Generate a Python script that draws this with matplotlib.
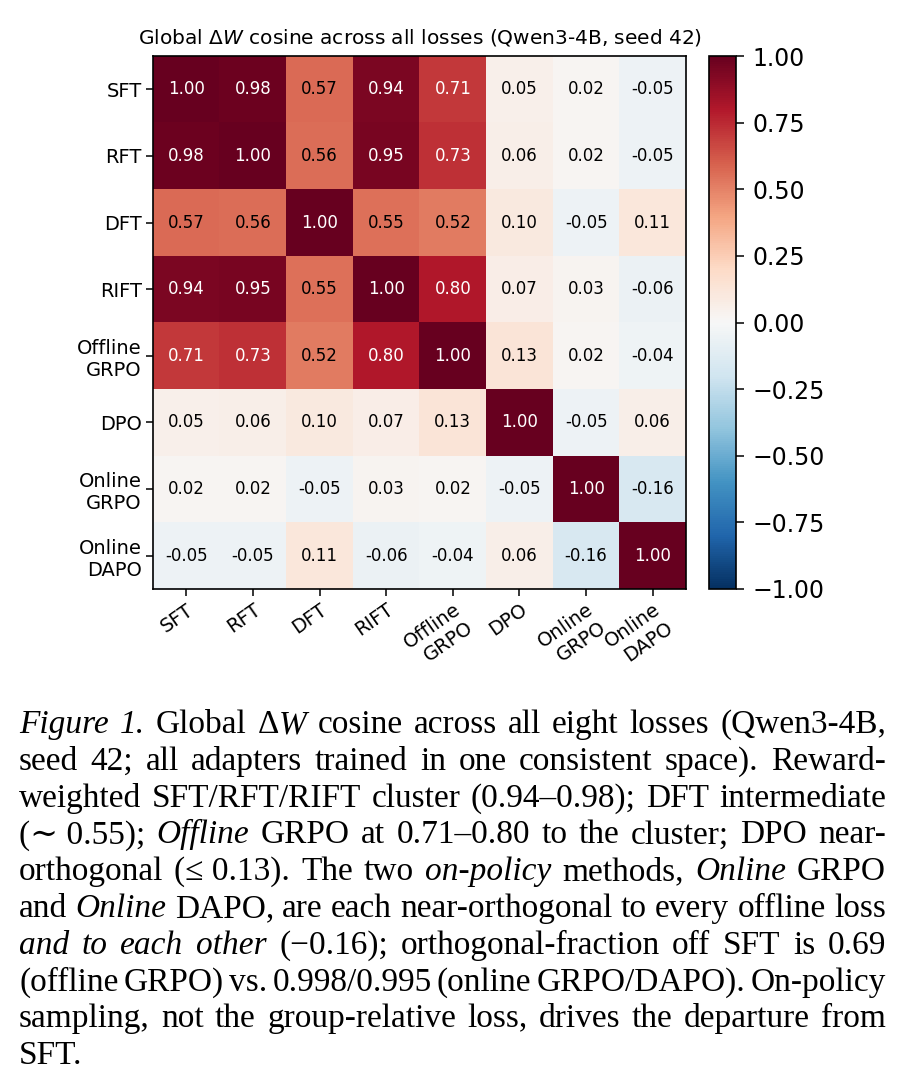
import numpy as np
import matplotlib
matplotlib.use("Agg")
import matplotlib.pyplot as plt

# ---------------- data ----------------
labels = ["SFT", "RFT", "DFT", "RIFT", "Offline\nGRPO", "DPO", "Online\nGRPO", "Online\nDAPO"]
row_sft = [1.00, 0.98, 0.57, 0.94, 0.71, 0.05, 0.02, -0.05]
row_rft = [0.98, 1.00, 0.56, 0.95, 0.73, 0.06, 0.02, -0.05]
row_dft = [0.57, 0.56, 1.00, 0.55, 0.52, 0.10, -0.05, 0.11]
row_rift = [0.94, 0.95, 0.55, 1.00, 0.80, 0.07, 0.03, -0.06]
row_offgrpo = [0.71, 0.73, 0.52, 0.80, 1.00, 0.13, 0.02, -0.04]
row_dpo = [0.05, 0.06, 0.10, 0.07, 0.13, 1.00, -0.05, 0.06]
row_ongrpo = [0.02, 0.02, -0.05, 0.03, 0.02, -0.05, 1.00, -0.16]
row_ondapo = [-0.05, -0.05, 0.11, -0.06, -0.04, 0.06, -0.16, 1.00]
cbar_ticks = [-1.0, -0.75, -0.5, -0.25, 0.0, 0.25, 0.5, 0.75, 1.0]

title = r"Global $\Delta W$ cosine across all losses (Qwen3-4B, seed 42)"

caption_lines = [
    "*Figure* *1.* Global Δ*W* cosine across all eight losses (Qwen3-4B,",
    "seed 42; all adapters trained in one consistent space). Reward-",
    "weighted SFT/RFT/RIFT cluster (0.94–0.98); DFT intermediate",
    "(∼~0.55); *Offline* GRPO at 0.71–0.80 to the cluster; DPO near-",
    "orthogonal (≤~0.13). The two *on-policy* methods, *Online* GRPO",
    "and *Online* DAPO, are each near-orthogonal to every offline loss",
    "*and to each other* (−0.16); orthogonal-fraction off SFT is 0.69",
    "(offline GRPO) vs. 0.998/0.995 (online GRPO/DAPO). On-policy",
    "sampling, not the group-relative loss, drives the departure from",
    "SFT.",
]

data = np.array([row_sft, row_rft, row_dft, row_rift, row_offgrpo,
                 row_dpo, row_ongrpo, row_ondapo])

W, H = 922, 1088
fig = plt.figure(figsize=(W / 100, H / 100), dpi=100)

def fx(px):
    return px / W

def fy(py):
    return 1 - py / H

# heatmap axes
ax = fig.add_axes([fx(153), fy(589), (686 - 153) / W, (589 - 56) / H])
im = ax.imshow(data, cmap="RdBu_r", vmin=-1, vmax=1, aspect="auto",
               interpolation="nearest")
n = len(labels)
ax.set_xticks(np.arange(n))
ax.set_yticks(np.arange(n))
ax.set_xticklabels(labels, rotation=35, ha="right", rotation_mode="anchor",
                   fontsize=14)
ax.set_yticklabels(labels, fontsize=14)
ax.tick_params(length=5, width=1.1, pad=3)
for sp in ax.spines.values():
    sp.set_linewidth(1.2)
ax.set_title(title, fontsize=14.5, pad=9)

for i in range(n):
    for j in range(n):
        v = data[i, j]
        col = "white" if v > 0.6 else "black"
        ax.text(j, i, f"{v:.2f}", ha="center", va="center", color=col,
                fontsize=12)

# colorbar
cax = fig.add_axes([fx(709), fy(589), (736 - 709) / W, (589 - 56) / H])
cb = fig.colorbar(im, cax=cax, ticks=cbar_ticks)
cb.ax.tick_params(labelsize=17, length=6, width=1.1, pad=6)
cb.outline.set_linewidth(1.2)

# ---------------- caption (justified) ----------------
fam = ["Liberation Serif", "DejaVu Serif"]
cap_size = 24
left_px, right_px = 19, 886
base0, step = 733, 36.8

renderer = fig.canvas.get_renderer()

def parse(line):
    words = []
    italic = False
    for w in line.split(" "):
        runs = []
        parts = w.split("*")
        for k, p in enumerate(parts):
            if k > 0:
                italic = not italic
            if p:
                runs.append((p.replace("~", " "), italic))
        words.append(runs)
    return words

for li, line in enumerate(caption_lines):
    y = fy(base0 + li * step)
    words = parse(line)
    placed = []
    widths = []
    for runs in words:
        wtexts = []
        ww = 0.0
        for txt, it in runs:
            t = fig.text(0, y, txt, fontsize=cap_size, family=fam,
                         style="italic" if it else "normal",
                         va="baseline", ha="left")
            bw = t.get_window_extent(renderer).width
            wtexts.append((t, bw))
            ww += bw
        placed.append(wtexts)
        widths.append(ww)
    total = sum(widths)
    last = li == len(caption_lines) - 1
    if last or len(words) < 2:
        sp = fig.text(0, 0, "a a", fontsize=cap_size, family=fam)
        sp2 = fig.text(0, 0, "aa", fontsize=cap_size, family=fam)
        gap = sp.get_window_extent(renderer).width - sp2.get_window_extent(renderer).width
        sp.remove(); sp2.remove()
    else:
        gap = (right_px - left_px - total) / (len(words) - 1)
    x = left_px
    for wtexts, ww in zip(placed, widths):
        xx = x
        for t, bw in wtexts:
            t.set_x(fx(xx))
            xx += bw
        x += ww + gap

fig.savefig("out.png", dpi=100)
